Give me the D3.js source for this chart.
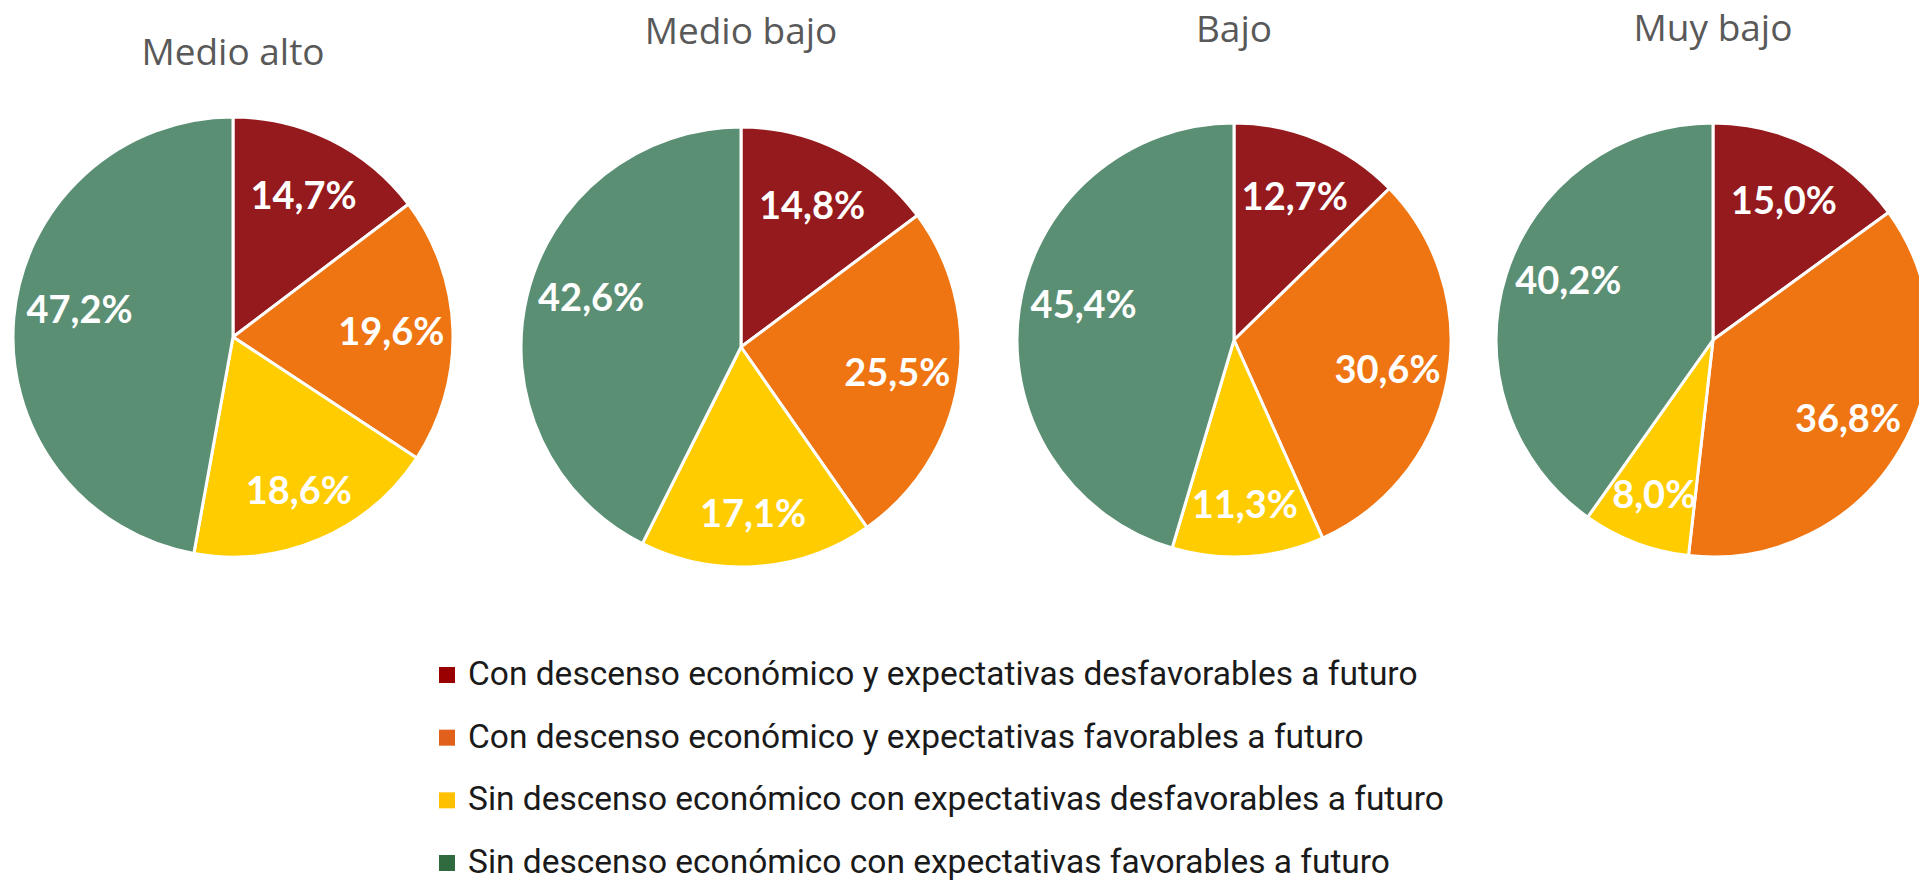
<!DOCTYPE html>
<html>
<head>
<meta charset="utf-8">
<script src="https://cdn.jsdelivr.net/npm/d3@7"></script>
<style>
  body { margin: 0; background: #fff; }
</style>
</head>
<body>
<svg id="chart"></svg>
<script>
// Data: one value per group, in the order of the groups
var groups = ["Medio alto", "Medio bajo", "Bajo", "Muy bajo"];
var categories = [
    "Con descenso económico y expectativas desfavorables a futuro",
    "Con descenso económico y expectativas favorables a futuro",
    "Sin descenso económico con expectativas desfavorables a futuro",
    "Sin descenso económico con expectativas favorables a futuro"
];
var conDescensoDesfavorables = [14.7, 14.8, 12.7, 15.0];
var conDescensoFavorables = [19.6, 25.5, 30.6, 36.8];
var sinDescensoDesfavorables = [18.6, 17.1, 11.3, 8.0];
var sinDescensoFavorables = [47.2, 42.6, 45.4, 40.2];

var series = [conDescensoDesfavorables, conDescensoFavorables, sinDescensoDesfavorables, sinDescensoFavorables];

// Layout of each pie (center, radius, title baseline)
var pieCx = [233, 741, 1234, 1713];
var pieCy = [337, 347, 340, 340];
var pieR = [220, 220, 217, 217];
var titleY = [65, 44, 42, 41];

// label placement per category (fraction of radius, extra vertical nudge)
var labelRadius = [0.72, 0.72, 0.76, 0.70];
var labelNudgeY = [0, 0, 0, -14];

var width = 1919, height = 881;

var sliceColor = d3.scaleOrdinal().domain(categories)
    .range(["#951a1d", "#ef7512", "#ffcc00", "#5b8f74"]);
var legendColor = d3.scaleOrdinal().domain(categories)
    .range(["#990000", "#e0601c", "#ffc000", "#2f6b3f"]);

var fmt = function(v) { return d3.format(".1f")(v).replace(".", ",") + "%"; };

var svg = d3.select("#chart")
    .attr("width", width)
    .attr("height", height);

var pie = d3.pie()
    .sort(null)
    .value(function(d) { return d.value; });

groups.forEach(function(g, i) {
    var rows = categories.map(function(c, k) { return { cat: c, k: k, value: series[k][i] }; });

    var arc = d3.arc().innerRadius(0).outerRadius(pieR[i]);

    var gPie = svg.append("g")
        .attr("transform", "translate(" + pieCx[i] + "," + pieCy[i] + ")");

    // slices
    gPie.selectAll(".slice")
        .data(pie(rows))
        .enter().append("path")
        .attr("class", "slice")
        .attr("d", arc)
        .style("fill", function(d) { return sliceColor(d.data.cat); })
        .style("stroke", "#fff")
        .style("stroke-width", 3)
        .style("stroke-linejoin", "round");

    // value labels
    gPie.selectAll(".lbl")
        .data(pie(rows))
        .enter().append("text")
        .attr("class", "lbl")
        .attr("transform", function(d) {
            var rr = pieR[i] * labelRadius[d.data.k];
            var c = d3.arc().innerRadius(rr).outerRadius(rr).centroid(d);
            return "translate(" + c[0] + "," + (c[1] + labelNudgeY[d.data.k]) + ")";
        })
        .attr("dy", "0.36em")
        .attr("text-anchor", "middle")
        .style("font-family", "Lato, 'Open Sans', sans-serif")
        .style("font-weight", "bold")
        .style("font-size", "38px")
        .style("fill", "#fff")
        .text(function(d) { return fmt(d.data.value); });

    // title
    svg.append("text")
        .attr("x", pieCx[i])
        .attr("y", titleY[i])
        .attr("text-anchor", "middle")
        .style("font-family", "'Open Sans', sans-serif")
        .style("font-size", "37px")
        .style("fill", "#595959")
        .text(g);
});

// legend
var legend = svg.append("g").attr("class", "legend");
var legendY = d3.scalePoint().domain(categories).range([685, 873]);

var item = legend.selectAll(".item")
    .data(categories)
    .enter().append("g")
    .attr("class", "item")
    .attr("transform", function(d) { return "translate(439," + legendY(d) + ")"; });

item.append("rect")
    .attr("x", 0)
    .attr("y", -18)
    .attr("width", 16)
    .attr("height", 16)
    .style("fill", function(d) { return legendColor(d); });

item.append("text")
    .attr("x", 29)
    .attr("y", 0)
    .style("font-family", "Roboto, sans-serif")
    .style("font-size", "33.5px")
    .style("fill", "#1a1a1a")
    .text(function(d) { return d; });
</script>
</body>
</html>
